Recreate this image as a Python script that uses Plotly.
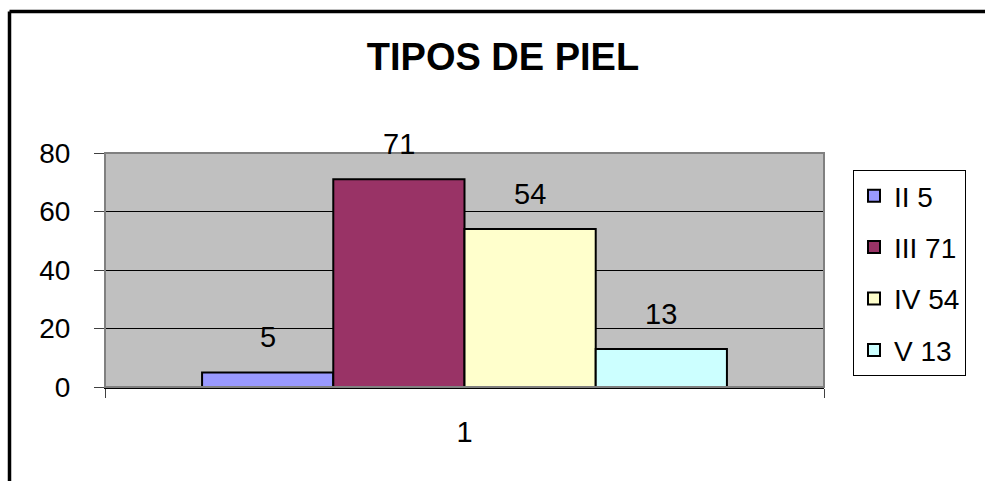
import plotly.graph_objects as go

categories = ["1"]
series_names = ["II 5", "III 71", "IV 54", "V 13"]
series_values = [5, 71, 54, 13]
series_colors = ["#9999FF", "#993366", "#FFFFCC", "#CCFFFF"]
y_ticks = [0, 20, 40, 60, 80]
title_text = "TIPOS DE PIEL"

FONT = "Liberation Sans, Arial, sans-serif"
bargap = 0.27
n = len(series_values)
bar_w = (1 - bargap) / n

fig = go.Figure()
for i, (name, val, col) in enumerate(zip(series_names, series_values, series_colors)):
    fig.add_trace(go.Bar(
        x=categories, y=[val], name=name, legendgroup=name,
        marker=dict(color=col, line=dict(color="black", width=2)),
    ))
    fig.add_annotation(
        x=(i - (n - 1) / 2) * bar_w, y=val, xref="x", yref="y",
        text=str(val), showarrow=False, yshift=35, yanchor="middle",
        font=dict(family=FONT, size=29, color="black"),
    )

W, H = 987, 483
L, R, T, B = 105, W - 824, 153, H - 387
PW, PH = W - L - R, H - T - B
fig.update_layout(
    width=W, height=H,
    margin=dict(l=L, r=R, t=T, b=B, pad=0),
    paper_bgcolor="white", plot_bgcolor="#C0C0C0",
    barmode="group", bargap=bargap, bargroupgap=0,
    font=dict(family=FONT, color="black"),
    title=dict(text="<b>" + title_text + "</b>", x=503 / W, xref="container",
               xanchor="center", y=1 - 57 / H, yref="container", yanchor="middle",
               font=dict(family=FONT, size=38, color="black")),
    legend=dict(x=(853 - L) / PW, xanchor="left", y=(387 - 170) / PH, yanchor="top",
                bordercolor="black", borderwidth=1, bgcolor="white",
                font=dict(family=FONT, size=28, color="black"),
                tracegroupgap=12, itemwidth=30),
    showlegend=True,
)
fig.update_xaxes(
    type="category", tickson="boundaries", ticks="outside", ticklen=9,
    tickcolor="#404040", tickwidth=1, showline=True, linecolor="black", linewidth=2,
    showgrid=False, tickfont=dict(family=FONT, size=29), ticklabelstandoff=18,
)
fig.update_yaxes(
    range=[0, 80], tickvals=y_ticks, ticks="outside", ticklen=10, tickcolor="#404040",
    showline=True, linecolor="#404040", linewidth=1, showgrid=True, gridcolor="black",
    gridwidth=1, tickfont=dict(family=FONT, size=28), ticklabelstandoff=18, zeroline=False,
)
# plot-area frame (top/right)
fig.add_shape(type="rect", xref="paper", yref="paper", x0=0, x1=1, y0=0, y1=1,
              line=dict(color="#808080", width=2), layer="above")
# outer chart border: only left and top edges fall inside the picture
bx = (9.5 - L) / PW
by = (387 - 11.5) / PH
fig.add_shape(type="line", xref="paper", yref="paper", x0=bx, x1=bx,
              y0=-(H - 2 - T - PH) / PH, y1=by,
              line=dict(color="black", width=3.5), layer="above")
fig.add_shape(type="line", xref="paper", yref="paper", x0=bx, x1=(W - 2 - L) / PW,
              y0=by, y1=by,
              line=dict(color="black", width=3.5), layer="above")

fig.write_html("out.html")
